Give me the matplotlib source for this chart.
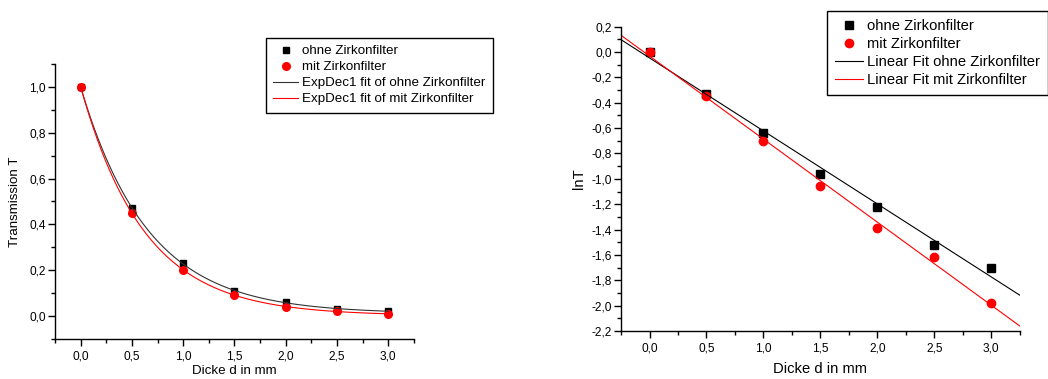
import numpy as np
import matplotlib
matplotlib.use('Agg')
import matplotlib.pyplot as plt
from matplotlib.ticker import MultipleLocator, FuncFormatter

plt.rcParams['font.family'] = ['Liberation Sans', 'DejaVu Sans']

# Messwerte
dicke = [0.0, 0.5, 1.0, 1.5, 2.0, 2.5, 3.0]
T_ohne = [1.0, 0.47, 0.23, 0.11, 0.06, 0.03, 0.02]
T_mit = [1.0, 0.45, 0.20, 0.09, 0.04, 0.02, 0.01]
lnT_ohne = [0.0, -0.33, -0.64, -0.96, -1.22, -1.52, -1.70]
lnT_mit = [0.0, -0.35, -0.70, -1.06, -1.39, -1.62, -1.98]

x = np.array(dicke)


def expdec1_fit(xd, yd):
    # y = y0 + A1*exp(-x/t1), t1 per Gittersuche, A1 und y0 linear
    best = None
    for t in np.linspace(0.05, 3.0, 3000):
        M = np.column_stack([np.exp(-xd / t), np.ones_like(xd)])
        coef, *_ = np.linalg.lstsq(M, yd, rcond=None)
        res = np.sum((M @ coef - yd) ** 2)
        if best is None or res < best[0]:
            best = (res, t, coef)
    _, t, (a, y0) = best
    return lambda xx: y0 + a * np.exp(-xx / t)


komma = FuncFormatter(lambda v, p: f'{v:.1f}'.replace('.', ','))


def achsen_stil(ax, fs):
    ax.spines['top'].set_visible(False)
    ax.spines['right'].set_visible(False)
    ax.spines['left'].set_linewidth(1.0)
    ax.spines['bottom'].set_linewidth(1.0)
    ax.xaxis.set_major_locator(MultipleLocator(0.5))
    ax.xaxis.set_minor_locator(MultipleLocator(0.25))
    ax.xaxis.set_major_formatter(komma)
    ax.yaxis.set_major_formatter(komma)
    ax.tick_params(which='major', direction='out', length=5, width=1.0, labelsize=fs)
    ax.tick_params(which='minor', direction='out', length=3, width=1.0)
    ax.tick_params(axis='y', which='major', pad=1.5)
    ax.tick_params(axis='x', which='major', pad=3.5)


def legende(handles, labels, anchor, fs, hl):
    leg = fig.legend(handles, labels, loc='upper left', bbox_to_anchor=anchor,
                     fontsize=fs, frameon=True, fancybox=False, edgecolor='black',
                     framealpha=1, borderaxespad=0, handlelength=hl,
                     handletextpad=0.3, labelspacing=0.27, borderpad=0.55)
    leg.get_frame().set_linewidth(1.0)
    return leg


fig = plt.figure(figsize=(10.48, 3.79), dpi=100)

# Transmission
ax1 = fig.add_axes([0.0525, 0.106, 0.3425, 0.725])
xf = np.linspace(0, 3, 300)
f_ohne = expdec1_fit(x, np.array(T_ohne))
f_mit = expdec1_fit(x, np.array(T_mit))
ax1.plot(x, T_ohne, 's', color='black', ms=5, label='ohne Zirkonfilter')
ax1.plot(x, T_mit, 'o', color='red', ms=5.5, label='mit Zirkonfilter')
ax1.plot(xf, f_ohne(xf), '-', color='#333333', lw=0.8, label='ExpDec1 fit of ohne Zirkonfilter')
ax1.plot(xf, f_mit(xf), '-', color='red', lw=0.8, label='ExpDec1 fit of mit Zirkonfilter')
ax1.set_xlim(-0.25, 3.25)
ax1.set_ylim(-0.1, 1.1)
ax1.yaxis.set_major_locator(MultipleLocator(0.2))
ax1.yaxis.set_minor_locator(MultipleLocator(0.1))
achsen_stil(ax1, 8.6)
ax1.set_xlabel('Dicke d in mm', fontsize=9.6, labelpad=2)
ax1.set_ylabel('Transmission T', fontsize=9.6, labelpad=6)
legende(*ax1.get_legend_handles_labels(), (0.2535, 0.9005), 9.6, 1.9)

# ln T mit linearem Fit
ax2 = fig.add_axes([0.5926, 0.1266, 0.3805, 0.803])
xl = np.array([-0.25, 3.25])
p_ohne = np.polyfit(x, lnT_ohne, 1)
p_mit = np.polyfit(x, lnT_mit, 1)
ax2.plot(x, lnT_ohne, 's', color='black', ms=5.5, label='ohne Zirkonfilter')
ax2.plot(x, lnT_mit, 'o', color='red', ms=6, label='mit Zirkonfilter')
ax2.plot(xl, np.polyval(p_ohne, xl), '-', color='black', lw=0.8, label='Linear Fit ohne Zirkonfilter')
ax2.plot(xl, np.polyval(p_mit, xl), '-', color='red', lw=0.8, label='Linear Fit mit Zirkonfilter')
ax2.set_xlim(-0.25, 3.25)
ax2.set_ylim(-2.2, 0.2)
ax2.yaxis.set_major_locator(MultipleLocator(0.2))
ax2.yaxis.set_minor_locator(MultipleLocator(0.1))
achsen_stil(ax2, 8.6)
ax2.set_xlabel('Dicke d in mm', fontsize=10.6, labelpad=5)
ax2.set_ylabel('lnT', fontsize=10.6, labelpad=4)
legende(*ax2.get_legend_handles_labels(), (0.789, 0.971), 10.6, 1.9)

fig.savefig('out.png', dpi=100)
